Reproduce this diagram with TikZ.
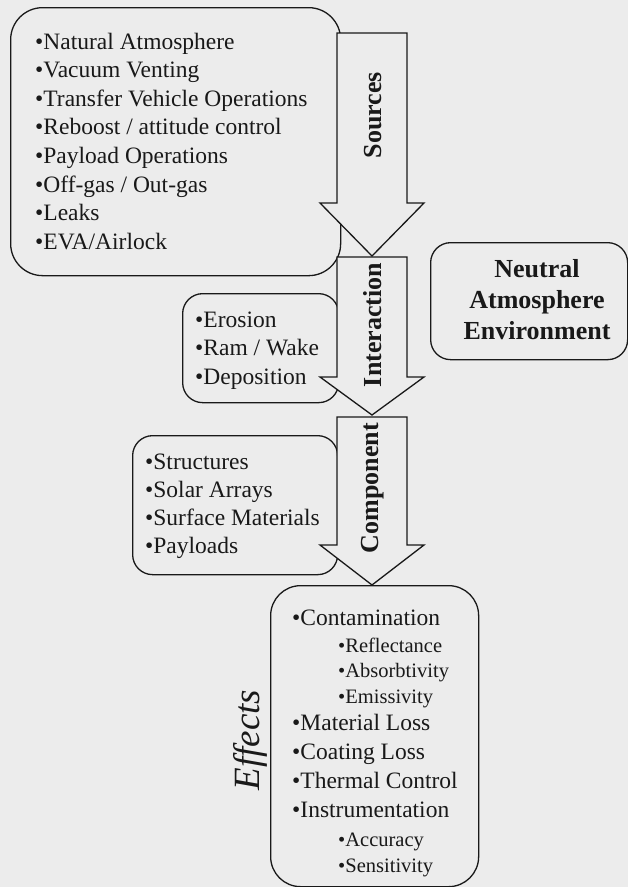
\documentclass[tikz,border=0pt]{standalone}
\usepackage{fontspec}
\setmainfont{Liberation Serif}
\definecolor{paper}{RGB}{236,236,236}
\definecolor{ink}{RGB}{25,25,25}
% block arrow pointing down: #1 top y, #2 y where the head starts, #3 tip y
\newcommand\flowarrow[3]{%
  \draw[blockarrow] (337,#1) -- (407,#1) -- (407,#2) -- (424,#2) -- (372,#3)
    -- (320,#2) -- (337,#2) -- cycle;}
\begin{document}
\begin{tikzpicture}[x=1pt,y=-1pt,
  panel/.style={draw=ink, line width=1.3pt, fill=paper, inner sep=0pt, anchor=north west},
  blockarrow/.style={draw=ink, line width=1.3pt, fill=paper, line join=miter},
  item/.style={anchor=base west, inner sep=0pt, font=\fontsize{23.5}{28}\selectfont, text=ink},
  subitem/.style={anchor=base west, inner sep=0pt, font=\fontsize{20.5}{25}\selectfont, text=ink},
  arrowlabel/.style={rotate=90, inner sep=0pt, font=\fontsize{26}{30}\selectfont\bfseries, text=ink},
  title/.style={anchor=base, inner sep=0pt, font=\fontsize{26}{30}\selectfont\bfseries, text=ink}]

% page
\fill[paper] (0,0) rectangle (628,887);
\useasboundingbox (0,0) rectangle (628,887);

% rounded panels
\node[panel, rounded corners=32pt, minimum width=330pt, minimum height=268pt] (sources) at (10,7) {};
\node[panel, rounded corners=20pt, minimum width=197pt, minimum height=117pt] (neutral) at (430,242) {};
\node[panel, rounded corners=20pt, minimum width=156pt, minimum height=109pt] (interaction) at (182,293) {};
\node[panel, rounded corners=20pt, minimum width=205pt, minimum height=139pt] (component) at (132,435) {};
\node[panel, rounded corners=30pt, minimum width=208pt, minimum height=301pt] (effects) at (270,585) {};

% source list
\foreach \t [count=\i] in {Natural Atmosphere, Vacuum Venting, Transfer Vehicle Operations,
    Reboost / attitude control, Payload Operations, Off-gas / Out-gas, Leaks, EVA/Airlock}
  \node[item] (src\i) at (35, {49 + (\i-1)*28.6}) {•\t};

% interaction list
\foreach \t [count=\i] in {Erosion, Ram / Wake, Deposition}
  \node[item] (int\i) at (195, {327 + (\i-1)*28.5}) {•\t};

% component list
\foreach \t [count=\i] in {Structures, Solar Arrays, Surface Materials, Payloads}
  \node[item] (cmp\i) at (145, {469 + (\i-1)*28}) {•\t};

% effects list
\node[item] (eff1) at (292,625) {•Contamination};
\node[subitem] (eff1a) at (338,652) {•Reflectance};
\node[subitem] (eff1b) at (338,677) {•Absorbtivity};
\node[subitem] (eff1c) at (338,703) {•Emissivity};
\node[item] (eff2) at (292,730) {•Material Loss};
\node[item] (eff3) at (292,759) {•Coating Loss};
\node[item] (eff4) at (292,788) {•Thermal Control};
\node[item] (eff5) at (292,817) {•Instrumentation};
\node[subitem] (eff5a) at (338,846) {•Accuracy};
\node[subitem] (eff5b) at (338,872) {•Sensitivity};

% environment title
\node[title] (nt1) at (537,277) {Neutral};
\node[title] (nt2) at (537,308) {Atmosphere};
\node[title] (nt3) at (537,339) {Environment};

% flow arrows
\flowarrow{33}{203}{256}
\flowarrow{257}{377}{415}
\flowarrow{417}{545}{585}

\node[arrowlabel] (lsrc) at (373,115) {Sources};
\node[arrowlabel] (lint) at (373,325) {Interaction};
\node[arrowlabel] (lcmp) at (373,488) {Component};

% effects caption
\node[rotate=90, inner sep=0pt, font=\fontsize{37}{40}\selectfont\itshape, text=ink] (leff) at (250,740) {Effects};
\end{tikzpicture}
\end{document}
